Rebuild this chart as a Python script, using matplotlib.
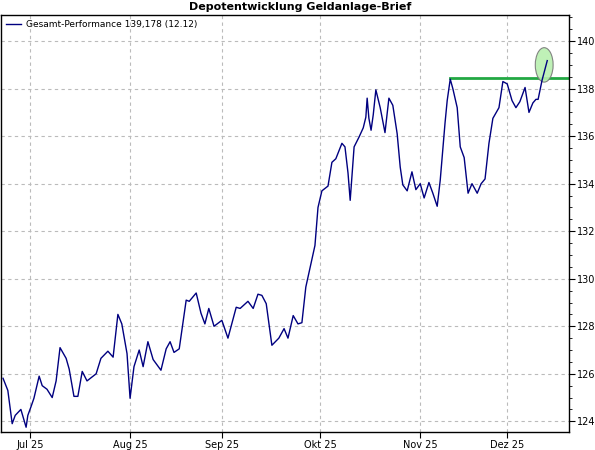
import matplotlib.pyplot as plt
from matplotlib.patches import Ellipse
from matplotlib.ticker import MultipleLocator

# x = trading days since 1 Jul 2025, y = depot value
days = [-6.2, -5.1, -4.1, -3.4, -2.1, -1.7, -0.9, -0.5, 0.2, 0.9, 2.1, 2.8, 3.9, 5.1, 6.0, 6.9,
        8.3, 9.0, 10.1, 11.0, 12.0, 13.1, 15.2, 16.3, 17.9, 19.1, 20.2, 21.1, 22.3, 23.0, 23.9,
        25.1, 26.0, 27.1, 28.3, 30.1, 31.3, 32.2, 33.1, 34.3, 35.9, 36.6, 38.2, 39.3, 40.2, 41.1,
        42.3, 44.1, 45.5, 47.4, 48.3, 50.1, 51.3, 52.4, 53.3, 54.3, 55.6, 57.2, 58.4, 59.3, 60.5,
        61.6, 62.5, 63.4, 64.6, 65.5, 66.2, 67.1, 68.5, 69.4, 70.3, 71.7, 72.4, 73.1, 73.6, 74.5,
        75.6, 76.6, 77.2, 77.5, 77.9, 78.4, 78.9, 79.5, 80.5, 81.6, 82.5, 83.4, 84.4, 85.1, 85.7,
        86.7, 87.8, 88.7, 89.7, 90.6, 91.7, 92.6, 93.6, 94.3, 95.4, 95.9, 96.6, 97.2, 98.2, 98.9,
        99.8, 100.7, 101.6, 102.8, 103.7, 104.6, 105.5, 106.4, 107.8, 108.7, 109.7, 110.8, 111.7,
        112.6, 113.8, 114.7, 115.6, 116.3, 116.8, 117.7, 118.9]
values = [125.81, 125.3, 123.9, 124.25, 124.5, 124.25, 123.75, 124.25, 124.6, 124.97, 125.9, 125.5,
          125.35, 125.0, 125.7, 127.1, 126.65, 126.2, 125.05, 125.05, 126.1, 125.7, 126.0, 126.65,
          126.95, 126.7, 128.5, 128.1, 126.85, 124.97, 126.3, 127.0, 126.3, 127.35, 126.6, 126.15,
          127.05, 127.35, 126.9, 127.05, 129.1, 129.05, 129.4, 128.55, 128.1, 128.75, 128.0, 128.25,
          127.5, 128.8, 128.75, 129.05, 128.75, 129.35, 129.3, 128.95, 127.2, 127.5, 127.9, 127.5,
          128.45, 128.1, 128.15, 129.65, 130.65, 131.4, 133.0, 133.7, 133.9, 134.9, 135.05, 135.7,
          135.55, 134.45, 133.3, 135.55, 135.95, 136.35, 136.8, 137.6, 136.75, 136.25, 136.9, 137.95,
          137.2, 136.15, 137.6, 137.3, 136.1, 134.7, 133.95, 133.7, 134.5, 133.75, 134.0, 133.4,
          134.05, 133.6, 133.05, 134.15, 136.55, 137.5, 138.4, 138.0, 137.2, 135.55, 135.1, 133.6,
          134.0, 133.6, 134.0, 134.2, 135.7, 136.75, 137.2, 138.3, 138.2, 137.5, 137.2, 137.45,
          138.05, 137.0, 137.4, 137.55, 137.55, 138.35, 139.18]
month_pos = [0, 23, 44.1, 66.7, 89.7, 109.7]
month_labels = ["Jul 25", "Aug 25", "Sep 25", "Okt 25", "Nov 25", "Dez 25"]
high_start, high_level = 96.6, 138.45

NAVY, GREEN = "#000080", "#22A843"

fig = plt.figure(figsize=(5.95, 4.5), dpi=100)
ax = fig.add_axes([1/595, 1-432/450, 568/595, 417/450])
ax.plot(days, values, color=NAVY, lw=1, label="Gesamt-Performance 139,178 (12.12)", zorder=3)
ax.plot([high_start, 124], [high_level, high_level], color=GREEN, lw=2, zorder=2)
ax.add_patch(Ellipse((118.2, 139.0), 4.1, 1.45, fc="#B8F0B0", ec="#777777", lw=0.8,
                     alpha=0.9, zorder=2.5))

ax.set_xlim(-6.67, 123.9); ax.set_ylim(123.55, 141.1)
ax.set_xticks(month_pos, month_labels)
ax.yaxis.set_major_locator(MultipleLocator(2))
ax.yaxis.set_minor_locator(MultipleLocator(0.5))
ax.yaxis.tick_right()
ax.tick_params(axis="both", labelsize=7, length=4, direction="out", pad=2)
ax.tick_params(axis="y", which="minor", length=2)
ax.grid(True, color="#BBBBBB", ls=(0, (3, 3)), lw=0.8)
for s in ax.spines.values():
    s.set_linewidth(1)
fig.text(300/595, 1-7/450, "Depotentwicklung Geldanlage-Brief", ha="center", va="center",
         fontsize=8, weight="bold")
ax.legend(loc="upper left", fontsize=6.5, frameon=False, handlelength=1.6,
          borderaxespad=0.2, handletextpad=0.6)
fig.savefig("out.png")
